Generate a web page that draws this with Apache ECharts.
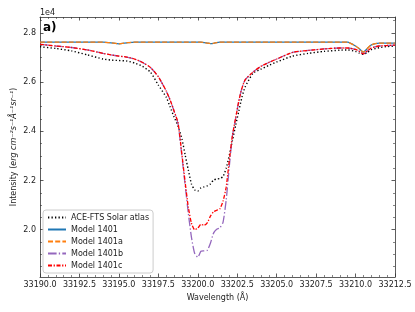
<!DOCTYPE html>
<html>
<head>
<meta charset="utf-8">
<script src="https://cdn.jsdelivr.net/npm/echarts@6/dist/echarts.min.js"></script>
<style>html,body{margin:0;padding:0;background:#fff}#c{width:415px;height:312px}</style>
</head>
<body>
<div id="c"></div>
<script>
// Wavelength grid (Å)
const wavelength = [33190, 33191, 33192, 33193, 33194, 33194.5, 33195, 33195.5, 33196, 33196.5,
  33197, 33197.5, 33198, 33198.25, 33198.5, 33198.75, 33199, 33199.2, 33199.4, 33199.6,
  33199.8, 33200, 33200.2, 33200.4, 33200.6, 33200.8, 33201, 33201.2, 33201.4, 33201.6,
  33201.8, 33202, 33202.2, 33202.4, 33202.6, 33202.8, 33203, 33203.5, 33204, 33204.5,
  33205, 33206, 33207, 33208, 33209, 33209.5, 33210, 33210.25, 33210.5, 33210.75,
  33211, 33211.5, 33212, 33212.5];

const aceFts = [27440, 27370, 27270, 27110, 26940, 26900, 26880, 26860, 26780, 26640,
  26410, 25880, 25390, 24990, 24580, 24210, 23680, 23040, 22430, 21860,
  21620, 21570, 21700, 21740, 21780, 21860, 22020, 22060, 22080, 22160,
  22500, 23030, 23640, 24250, 24820, 25390, 25800, 26360, 26530, 26680,
  26820, 27060, 27170, 27250, 27300, 27310, 27250, 27180, 27130, 27210,
  27320, 27400, 27450, 27470];

const model1401 = [27630, 27630, 27630, 27630, 27625, 27600, 27560, 27600, 27630, 27630,
  27630, 27630, 27630, 27630, 27630, 27630, 27630, 27630, 27630, 27630,
  27630, 27630, 27625, 27610, 27590, 27570, 27580, 27610, 27625, 27630,
  27630, 27630, 27630, 27630, 27630, 27630, 27630, 27630, 27630, 27630,
  27630, 27630, 27630, 27630, 27630, 27625, 27470, 27350, 27220, 27370,
  27520, 27590, 27590, 27590];

const model1401a = [27630, 27630, 27630, 27630, 27625, 27600, 27560, 27600, 27630, 27630,
  27630, 27630, 27630, 27630, 27630, 27630, 27630, 27630, 27630, 27630,
  27630, 27630, 27625, 27610, 27590, 27570, 27580, 27610, 27625, 27630,
  27630, 27630, 27630, 27630, 27630, 27630, 27630, 27630, 27630, 27630,
  27630, 27630, 27630, 27630, 27630, 27625, 27470, 27350, 27220, 27370,
  27520, 27590, 27590, 27590];

const model1401b = [27540, 27470, 27410, 27310, 27170, 27110, 27060, 27020, 26940, 26800,
  26600, 26220, 25640, 25270, 24820, 24300, 22950, 21810, 20670, 19690,
  19040, 18880, 19120, 19140, 19160, 19450, 19860, 20020, 20080, 20300,
  21200, 22580, 23830, 24520, 25230, 25760, 26090, 26410, 26640, 26800,
  26940, 27210, 27290, 27350, 27390, 27390, 27330, 27250, 27150, 27270,
  27390, 27470, 27490, 27510];

const model1401c = [27540, 27470, 27410, 27310, 27170, 27110, 27060, 27020, 26940, 26800,
  26600, 26220, 25640, 25270, 24820, 24340, 23030, 21930, 20920, 20260,
  20000, 20060, 20220, 20180, 20280, 20550, 20730, 20790, 20850, 21160,
  21730, 22830, 23850, 24540, 25230, 25760, 26090, 26410, 26640, 26800,
  26940, 27210, 27290, 27350, 27390, 27390, 27330, 27250, 27150, 27270,
  27390, 27470, 27490, 27510];

// Tick values
const yMajorTicks = [20000, 22000, 24000, 26000, 28000];
const yMinorTicks = [18500, 19000, 19500, 20500, 21000, 21500, 22500, 23000, 23500,
  24500, 25000, 25500, 26500, 27000, 27500, 28500];

const FONT = 'DejaVu Sans';
const AX = '#333';
const pair = arr => wavelength.map((w, i) => [w, arr[i]]);

const xBase = {
  type: 'value', min: 33190, max: 33212.5, interval: 2.5,
  axisLine: { show: true, onZero: false, lineStyle: { color: AX, width: 0.8 } },
  axisTick: { show: true, inside: true, length: 3.5, lineStyle: { color: AX, width: 0.8 } },
  minorTick: { show: true, splitNumber: 5, length: 2, lineStyle: { color: AX, width: 0.6 } },
  splitLine: { show: false }, minorSplitLine: { show: false }
};
const yBase = {
  type: 'value', min: 18076, max: 28650, scale: true,
  axisLine: { show: false, onZero: false, lineStyle: { color: AX, width: 0.8 } },
  splitLine: { show: false }
};

const option = {
  animation: false,
  textStyle: { fontFamily: FONT },
  grid: { left: 40, right: 20, top: 17, bottom: 35, containLabel: false, outerBoundsMode: 'none' },
  title: { text: 'a)', left: 43, top: 22, padding: 0,
    textStyle: { fontFamily: FONT, fontSize: 12, fontWeight: 'bold', color: '#000' } },
  graphic: [{ type: 'text', left: 40, top: 9,
    style: { text: '1e4', fontFamily: FONT, fontSize: 8, fill: '#222' } }],
  legend: {
    orient: 'vertical', left: 43, top: 210,
    padding: [3, 4, 3, 4], itemGap: 3, itemWidth: 18, itemHeight: 9,
    itemStyle: { opacity: 0 },
    backgroundColor: 'rgba(255,255,255,0.85)', borderColor: '#cccccc', borderWidth: 1, borderRadius: 3,
    textStyle: { fontFamily: FONT, fontSize: 8, color: '#222', lineHeight: 9 },
    data: ['ACE-FTS Solar atlas', 'Model 1401', 'Model 1401a', 'Model 1401b', 'Model 1401c']
  },
  xAxis: [
    Object.assign({}, xBase, {
      position: 'bottom',
      axisLabel: { show: true, fontSize: 8, color: '#222', margin: 4, formatter: v => v.toFixed(1) },
      name: 'Wavelength (Å)', nameLocation: 'middle', nameGap: 17, nameMoveOverlap: false,
      nameTextStyle: { fontFamily: FONT, fontSize: 8, color: '#222' }
    }),
    Object.assign({}, xBase, { position: 'top', axisLabel: { show: false } })
  ],
  yAxis: [
    Object.assign({}, yBase, {
      position: 'left',
      axisLine: { show: true, onZero: false, lineStyle: { color: AX, width: 0.8 } },
      axisTick: { show: true, inside: true, length: 3.5, customValues: yMajorTicks, lineStyle: { color: AX, width: 0.8 } },
      axisLabel: { show: true, fontSize: 8, color: '#222', margin: 4, customValues: yMajorTicks,
        formatter: v => (v / 10000).toFixed(1) },
      name: 'Intensity ({i|erg cm⁻²s⁻¹Å⁻¹sr⁻¹})', nameLocation: 'middle', nameGap: 22, nameMoveOverlap: false,
      nameTextStyle: { fontFamily: FONT, fontSize: 8, color: '#222',
        rich: { i: { fontFamily: FONT, fontSize: 8, fontStyle: 'italic', color: '#222' } } }
    }),
    Object.assign({}, yBase, {
      position: 'left',
      axisTick: { show: true, inside: true, length: 2, customValues: yMinorTicks, lineStyle: { color: AX, width: 0.6 } },
      axisLabel: { show: false }
    }),
    Object.assign({}, yBase, {
      position: 'right',
      axisLine: { show: true, onZero: false, lineStyle: { color: AX, width: 0.8 } },
      axisTick: { show: true, inside: true, length: 3.5, customValues: yMajorTicks, lineStyle: { color: AX, width: 0.8 } },
      axisLabel: { show: false }
    }),
    Object.assign({}, yBase, {
      position: 'right',
      axisTick: { show: true, inside: true, length: 2, customValues: yMinorTicks, lineStyle: { color: AX, width: 0.6 } },
      axisLabel: { show: false }
    })
  ],
  series: [
    { name: 'ACE-FTS Solar atlas', type: 'line', data: pair(aceFts), symbol: 'none', smooth: 0.2,
      lineStyle: { color: '#000', width: 1.4, type: [1.3, 2.2] }, itemStyle: { color: '#000' } },
    { name: 'Model 1401', type: 'line', data: pair(model1401), symbol: 'none', smooth: 0.2,
      lineStyle: { color: '#1f77b4', width: 1.3, type: 'solid' }, itemStyle: { color: '#1f77b4' } },
    { name: 'Model 1401a', type: 'line', data: pair(model1401a), symbol: 'none', smooth: 0.2,
      lineStyle: { color: '#ff7f0e', width: 1.3, type: [5, 2.2] }, itemStyle: { color: '#ff7f0e' } },
    { name: 'Model 1401b', type: 'line', data: pair(model1401b), symbol: 'none', smooth: 0.2,
      lineStyle: { color: '#9467bd', width: 1.3, type: [8.6, 2.2, 1.3, 2.2] }, itemStyle: { color: '#9467bd' } },
    { name: 'Model 1401c', type: 'line', data: pair(model1401c), symbol: 'none', smooth: 0.2,
      lineStyle: { color: '#ff0000', width: 1.3, type: [4, 1.6, 1.3, 1.6] }, itemStyle: { color: '#ff0000' } }
  ]
};

const chart = echarts.init(document.getElementById('c'), null, { renderer: 'canvas' });
chart.setOption(option);
</script>
</body>
</html>
